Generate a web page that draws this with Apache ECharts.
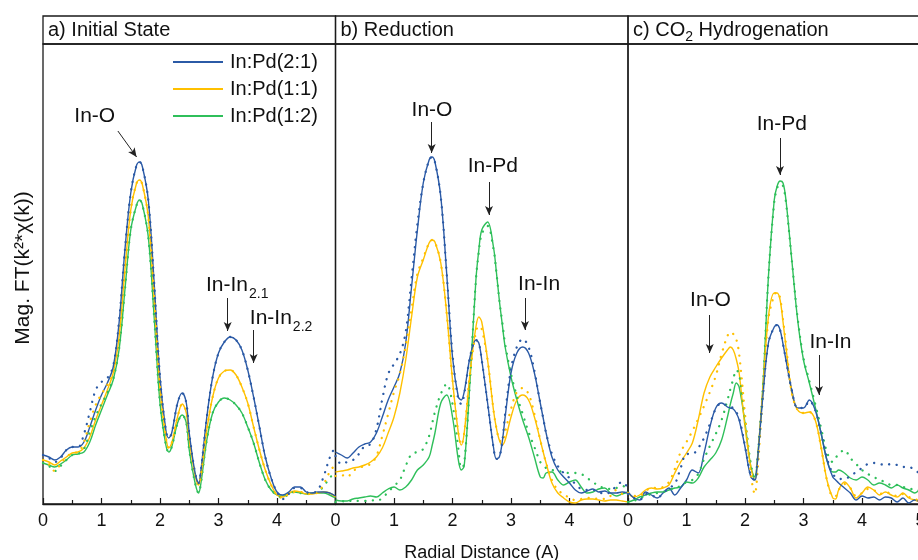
<!DOCTYPE html>
<html><head><meta charset="utf-8">
<script src="https://cdn.jsdelivr.net/npm/echarts@6/dist/echarts.min.js"></script>
<style>html,body{margin:0;padding:0;background:#fff}#c{width:918px;height:560px}</style>
</head><body><div id="c"></div>
<script>
// ---------- data ----------
const seriesNames = ['In:Pd(2:1)', 'In:Pd(1:1)', 'In:Pd(1:2)'];
const panelTitles = ['a) Initial State', 'b) Reduction', 'c) CO{s|2} Hydrogenation'];
const xAxisTitle = 'Radial Distance (A)';
const yAxisTitle = 'Mag. FT(k\u00b2*\u03c7(k))';

// Panel a: Initial state (R in Angstrom, magnitude in arbitrary units)
const aR = [0,0.1,0.2,0.3,0.4,0.5,0.6,0.7,0.8,0.9,1.0,1.1,1.2,1.3,1.4,1.5,1.6,1.65,1.7,1.8,1.9,2.0,2.1,2.15,2.2,2.3,2.38,2.45,2.5,2.6,2.66,2.7,2.8,2.9,3.0,3.1,3.2,3.3,3.4,3.5,3.6,3.7,3.8,3.9,4.0,4.1,4.2,4.3,4.4,4.5,4.6,4.7,4.8,4.9,5.0];
const a21 = [49,47,44,47,54,57,57,62,77,94,109,121,137,181,254,311,339,342,337,304,221,127,74,66,71,101,111,101,71,31,21,34,87,127,151,162,167,164,154,134,107,77,47,26,12,9,12,17,17,12,11,12,12,11,8];
const a11 = [44,42,39,43,47,51,52,56,67,84,99,114,131,167,234,294,321,324,319,287,207,117,67,56,61,87,100,91,64,29,19,29,74,107,126,133,134,129,117,101,77,54,34,19,9,7,11,13,12,10,10,11,12,11,7];
const a12 = [41,39,37,40,44,49,50,52,62,79,94,109,124,154,214,274,299,304,299,267,187,101,59,52,57,81,89,81,54,21,11,21,64,91,102,106,104,99,91,77,61,41,24,14,9,8,11,12,11,10,11,11,11,9,6];
const a21Fit = [49,46,42,46,54,57,57,70,92,114,122,126,138,183,254,311,339,342,337,304,221,127,74,66,71,101,111,101,71,31,21,34,87,127,151,162,167,164,154,134,107,77,47,26,12,5,10,16,16,12,11,14,28,46,58];
const a11Fit = [44,40,33,40,47,51,52,62,82,99,110,119,132,168,234,294,321,324,319,287,207,117,67,56,61,87,100,91,64,29,19,29,74,107,126,133,134,129,117,101,77,54,34,19,9,6,10,12,12,10,10,12,20,32,40];
const a12Fit = [41,38,33,38,44,49,50,55,72,88,100,111,125,155,214,274,299,304,299,267,187,101,59,52,57,81,89,81,54,21,11,21,64,91,102,106,104,99,91,77,61,41,24,14,9,6,10,12,11,10,11,12,18,26,32];

// Panel b: Reduction
const bR = [0,0.1,0.2,0.3,0.4,0.5,0.6,0.7,0.8,0.9,1.0,1.1,1.2,1.3,1.4,1.5,1.6,1.65,1.7,1.8,1.9,2.0,2.1,2.15,2.2,2.3,2.4,2.45,2.5,2.6,2.7,2.75,2.8,2.85,2.9,3.0,3.1,3.2,3.3,3.4,3.5,3.55,3.6,3.7,3.8,3.9,4.0,4.1,4.2,4.3,4.4,4.5,4.6,4.7,4.8,4.9,5.0];
const b21 = [52,49,46,51,57,60,62,71,87,104,117,131,161,217,274,321,344,347,342,307,231,147,107,104,112,147,164,161,144,101,57,45,47,62,87,131,151,157,151,131,101,86,71,47,34,27,21,14,11,13,15,12,13,11,11,12,11];
const b11 = [32,33,34,36,37,39,42,47,56,71,87,111,144,187,227,244,261,264,262,241,191,124,71,59,71,131,177,187,182,144,94,76,64,59,64,87,104,109,104,87,64,52,41,21,11,6,2,1,4,5,5,4,3,4,4,3,2];
const b12 = [4,3,3,5,6,7,8,7,11,15,17,14,17,24,34,39,47,58,71,101,109,87,44,34,38,124,224,254,274,282,257,232,204,180,157,127,104,84,67,47,27,26,31,32,24,19,22,24,17,11,12,15,16,11,8,10,12];
const b21Fit = [48,40,42,44,50,58,60,75,105,130,140,150,172,225,280,321,344,347,342,307,231,150,104,100,110,147,164,161,144,101,57,45,47,62,90,135,157,165,157,133,101,86,71,50,38,31,26,20,15,14,14,12,10,12,18,22,16];
const b11Fit = [28,29,27,33,36,38,40,48,68,90,112,130,158,195,230,246,261,264,262,241,191,124,71,59,71,131,172,178,175,144,94,76,64,62,72,95,112,116,110,90,64,52,41,24,14,10,6,4,5,6,6,5,5,8,14,10,6];
const b12Fit = [2,3,2,4,3,3,4,3,6,12,18,24,38,50,52,55,68,80,92,110,120,100,55,36,40,124,224,252,270,278,255,232,204,182,160,130,108,90,72,57,42,39,36,34,33,32,31,31,30,26,22,18,16,15,16,18,16];

// Panel c: CO2 hydrogenation
const cR = [0,0.1,0.2,0.3,0.4,0.5,0.6,0.7,0.8,0.9,1.0,1.1,1.2,1.3,1.4,1.5,1.6,1.7,1.75,1.8,1.85,1.9,2.0,2.1,2.17,2.2,2.3,2.4,2.5,2.55,2.6,2.65,2.7,2.8,2.9,3.0,3.1,3.2,3.3,3.4,3.5,3.55,3.6,3.7,3.8,3.9,4.0,4.1,4.2,4.3,4.4,4.5,4.6,4.7,4.8,4.9,5.0];
const c21 = [12,6,4,12,9,6,11,16,9,16,24,34,31,51,77,96,101,97,96,95,91,84,57,27,24,34,104,161,177,179,174,160,144,114,96,96,104,94,71,44,27,24,21,16,11,4,8,6,7,4,7,6,2,6,1,4,2];
const c11 = [11,7,9,14,16,15,16,19,31,42,51,61,84,111,127,137,146,154,157,154,145,131,77,37,24,34,111,187,211,211,204,182,157,111,94,91,92,84,57,24,6,5,14,22,16,6,11,17,14,9,12,9,7,11,6,4,2];
const c12 = [2,4,7,9,11,12,12,14,16,17,22,21,26,37,44,51,64,87,100,111,121,117,81,37,27,37,111,227,304,318,323,321,304,244,184,144,121,97,71,44,32,32,34,31,26,24,27,24,19,21,19,16,19,16,14,11,16];
const c21Fit = [10,6,4,10,9,6,11,16,20,36,50,50,56,66,80,95,101,98,97,96,92,86,58,28,24,34,104,161,177,179,174,160,144,114,96,96,103,94,71,46,30,27,25,25,28,32,36,40,41,40,39,40,39,37,37,34,30];
const c11Fit = [11,8,8,13,16,16,17,22,35,52,62,73,85,98,112,128,150,168,172,170,165,150,90,30,10,22,105,185,209,212,206,184,160,111,94,91,92,84,57,24,8,8,14,20,16,8,11,15,14,10,12,10,8,10,7,5,3];
const c12Fit = [2,3,6,8,10,11,12,14,16,18,22,24,30,45,58,70,84,104,115,125,134,130,85,40,25,35,111,227,302,316,320,318,302,244,186,146,123,100,76,52,42,46,50,54,46,40,34,30,27,24,22,19,19,17,16,14,14];

// Annotations (text + arrow) per panel, in data coordinates
const annotations = [
  [ {t:'In-O', x:0.885, y:388, ax:[1.28,373,1.60,347]},
    {t:'In-In{s|2.1}', x:3.32, y:219, ax:[3.157,206,3.157,173]},
    {t:'In-In{s|2.2}', x:4.07, y:186, ax:[3.60,174,3.60,141]} ],
  [ {t:'In-O', x:1.65, y:394, ax:[1.644,382,1.644,351]},
    {t:'In-Pd', x:2.69, y:338, ax:[2.624,322,2.624,289]},
    {t:'In-In', x:3.48, y:220, ax:[3.239,206,3.239,174]} ],
  [ {t:'In-Pd', x:2.63, y:380, ax:[2.598,366,2.598,329]},
    {t:'In-O', x:1.41, y:204, ax:[1.397,189,1.397,151]},
    {t:'In-In', x:3.46, y:162, ax:[3.265,149,3.265,109]} ]
];

// ---------- chart ----------
const FONT = '"Liberation Sans", Arial, sans-serif';
const colors = ['#2b5aa6', '#ffc000', '#2fbf5a'];
const gridLeft = [43, 335.5, 628];
const W = 292.5;
const panels = [
  {R: aR, lines: [a21, a11, a12], fits: [a21Fit, a11Fit, a12Fit]},
  {R: bR, lines: [b21, b11, b12], fits: [b21Fit, b11Fit, b12Fit]},
  {R: cR, lines: [c21, c11, c12], fits: [c21Fit, c11Fit, c12Fit]}
];
const pair = (R, v) => R.map((r, i) => [r, v[i]]);
const subRich = {
  s: {fontSize: 14, fontFamily: FONT, color: '#111', padding: [18, 0, 0, 1]}
};

const grid = [], xAxis = [], yAxis = [], series = [], title = [];
for (let i = 0; i < 3; i++) {
  grid.push({left: gridLeft[i], width: W, top: 44, height: 460, show: true,
    outerBoundsMode: 'none', containLabel: false,
    borderColor: '#1a1a1a', borderWidth: 1.3, backgroundColor: 'transparent'});
  xAxis.push({
    type: 'value', gridIndex: i, min: 0, max: 5, interval: 1,
    name: i === 1 ? xAxisTitle : '', nameLocation: 'middle', nameGap: 40,
    nameTextStyle: {fontSize: 18, fontFamily: FONT, color: '#111'},
    axisLine: {show: true, lineStyle: {color: '#1a1a1a', width: 1.3}},
    axisTick: {show: true, inside: true, length: 6, lineStyle: {color: '#1a1a1a', width: 1.2}},
    minorTick: {show: true, splitNumber: 2, length: 4, lineStyle: {color: '#1a1a1a', width: 1.2}},
    splitLine: {show: false}, minorSplitLine: {show: false},
    axisLabel: {fontSize: 18, fontFamily: FONT, color: '#111', margin: 8,
      formatter: v => (i < 2 && v === 5) ? '' : String(v)}
  });
  yAxis.push({
    type: 'value', gridIndex: i, min: 0, max: 460,
    name: i === 0 ? yAxisTitle : '', nameLocation: 'middle', nameGap: 9, nameRotate: 90,
    nameTextStyle: {fontSize: 21, fontFamily: FONT, color: '#111', padding: [0, 0, 0, 12]},
    axisLine: {show: false}, axisTick: {show: false}, axisLabel: {show: false},
    splitLine: {show: false}
  });
  const p = panels[i];
  for (let k = 2; k >= 0; k--) {
    series.push({
      name: seriesNames[k], type: 'line', xAxisIndex: i, yAxisIndex: i,
      data: pair(p.R, p.lines[k]), symbol: 'none', smooth: 0.35,
      lineStyle: {color: colors[k], width: 1.4}, itemStyle: {color: colors[k]}, z: 3
    });
    series.push({
      name: seriesNames[k] + ' fit', type: 'line', xAxisIndex: i, yAxisIndex: i,
      data: pair(p.R, p.fits[k]), symbol: 'none', smooth: 0.35, silent: true,
      lineStyle: {color: colors[k], width: 2.3, type: [0.1, 7.5], cap: 'round'}, z: 4
    });
  }
  // annotations
  series.push({
    type: 'scatter', xAxisIndex: i, yAxisIndex: i, symbolSize: 0, silent: true, z: 10,
    itemStyle: {color: '#111', opacity: 1},
    data: annotations[i].map(a => ({value: [a.x, a.y], t: a.t})),
    label: {show: true, position: 'inside', formatter: d => d.data.t,
      fontSize: 21, fontFamily: FONT, color: '#111', textBorderWidth: 0, opacity: 1, rich: subRich},
    markLine: {
      silent: true, symbol: ['none', 'arrow'], symbolSize: [6, 9], animation: false,
      lineStyle: {color: '#222', width: 1, type: 'solid'}, label: {show: false},
      emphasis: {disabled: true},
      data: annotations[i].map(a => [{coord: [a.ax[0], a.ax[1]]}, {coord: [a.ax[2], a.ax[3]]}])
    }
  });
}
// title boxes
for (let i = 0; i < 3; i++) {
  grid.push({left: gridLeft[i], width: W, top: 16, height: 28, show: true,
    outerBoundsMode: 'none', containLabel: false,
    borderColor: '#1a1a1a', borderWidth: 1.3, backgroundColor: 'transparent'});
  xAxis.push({type: 'value', gridIndex: 3 + i, show: false, min: 0, max: 1});
  yAxis.push({type: 'value', gridIndex: 3 + i, show: false, min: 0, max: 1});
  title.push({text: panelTitles[i], left: gridLeft[i] + 5, top: 16, padding: 0,
    textStyle: {fontSize: 20, fontWeight: 'normal', fontFamily: FONT, color: '#111', lineHeight: 28,
      rich: {s: {fontSize: 14, lineHeight: 14, fontFamily: FONT, color: '#111', padding: [14, 0, 0, 0]}}}});
}

const chart = echarts.init(document.getElementById('c'));
chart.setOption({
  animation: false,
  backgroundColor: '#fff',
  title: title,
  legend: {
    data: seriesNames, left: 173, top: 52, orient: 'vertical', padding: 0,
    icon: 'rect', itemWidth: 50, itemHeight: 2, itemGap: 7, selectedMode: false,
    textStyle: {fontSize: 20, fontFamily: FONT, color: '#111', lineHeight: 20, padding: [0, 0, 0, 2]}
  },
  grid: grid, xAxis: xAxis, yAxis: yAxis, series: series
});
</script></body></html>
